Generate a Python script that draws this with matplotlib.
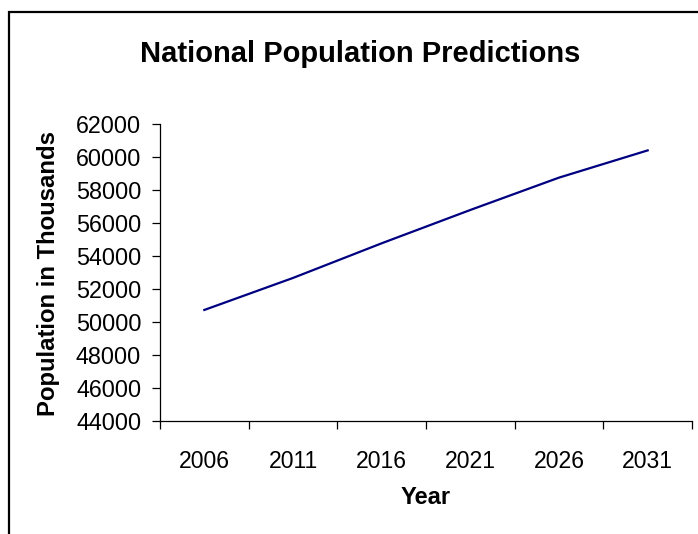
import matplotlib
matplotlib.use("Agg")
import matplotlib.pyplot as plt
from matplotlib.patches import Rectangle
from matplotlib.ticker import FixedLocator, NullFormatter

plt.rcParams['font.family'] = ['Liberation Sans', 'DejaVu Sans']

# projected population (thousands)
years = ['2006', '2011', '2016', '2021', '2026', '2031']
population = [50730, 52670, 54770, 56790, 58750, 60400]
y_ticks = list(range(44000, 62001, 2000))

W, H = 698, 534
fig = plt.figure(figsize=(W / 100, H / 100), dpi=100)
fig.patch.set_facecolor('white')

# chart area border (runs off the right and bottom edges)
fig.patches.append(Rectangle((8.5 / W, -0.05), 1.2, (H - 11.5) / H + 0.05,
                             transform=fig.transFigure, fill=False,
                             edgecolor='black', linewidth=1.6, zorder=0))

ax = fig.add_axes([160 / W, (H - 421) / H, (692 - 160) / W, (421 - 124) / H])
x = list(range(len(years)))
ax.plot(x, population, color='#000080', linewidth=1.6)

ax.set_xlim(-0.5, len(years) - 0.5)
ax.set_ylim(44000, 62000)
ax.set_yticks(y_ticks)
ax.set_yticklabels([str(v) for v in y_ticks])

# tick marks sit between categories, labels in the middle
ax.xaxis.set_major_locator(FixedLocator([i - 0.5 for i in range(len(years) + 1)]))
ax.xaxis.set_major_formatter(NullFormatter())
ax.xaxis.set_minor_locator(FixedLocator(x))
ax.set_xticklabels(years, minor=True)

ax.tick_params(axis='both', which='major', direction='out', length=5.5,
               width=0.9, color='black', labelsize=16.8, labelcolor='black')
ax.tick_params(axis='y', pad=8)
ax.tick_params(axis='x', which='minor', length=0, pad=21, labelsize=16.6)

for side in ['top', 'right']:
    ax.spines[side].set_visible(False)
for side in ['left', 'bottom']:
    ax.spines[side].set_linewidth(0.9)
    ax.spines[side].set_color('black')

fig.text(360 / W, 1 - 54 / H, 'National Population Predictions',
         ha='center', va='center', fontsize=21, fontweight='bold')
fig.text(426 / W, 1 - 497 / H, 'Year', ha='center', va='center',
         fontsize=17, fontweight='bold')
fig.text(49 / W, 1 - 273 / H, 'Population in Thousands', ha='center',
         va='center', rotation=90, fontsize=17.2, fontweight='bold')

fig.savefig('out.png', dpi=100)
